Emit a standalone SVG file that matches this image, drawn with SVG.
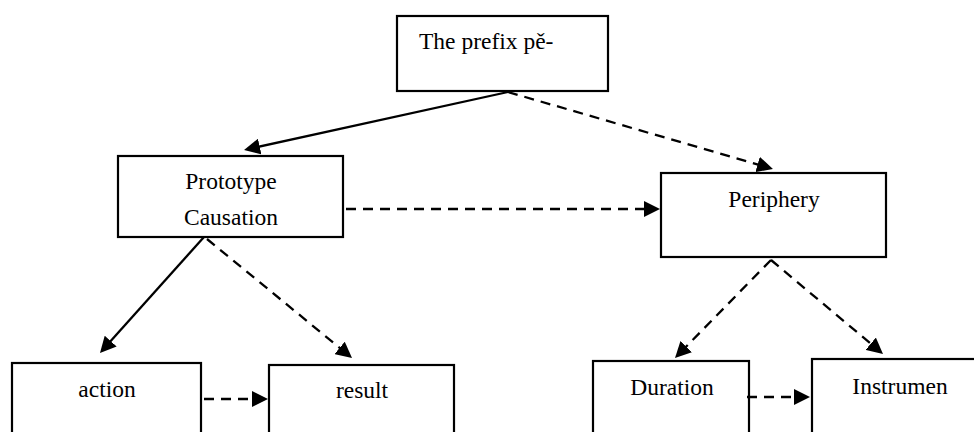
<svg xmlns="http://www.w3.org/2000/svg" width="974" height="432" viewBox="0 0 974 432">
  <style>
    .box { fill: #ffffff; stroke: #000000; stroke-width: 2.2; }
    .label { font-family: "Liberation Serif", "Times New Roman", "DejaVu Serif", serif; font-size: 23.5px; fill: #000000; }
    .mid { text-anchor: middle; }
    .solid { fill: none; stroke: #000000; stroke-width: 2.3; marker-end: url(#arrow); }
    .dashed { fill: none; stroke: #000000; stroke-width: 2.3; stroke-dasharray: 10 7; marker-end: url(#arrow); }
  </style>
  <defs>
    <marker id="arrow" markerUnits="userSpaceOnUse" markerWidth="17" markerHeight="16" refX="10" refY="8" orient="auto">
      <path d="M0,0 L16,8 L0,16 Z" fill="#000000"/>
    </marker>
  </defs>
  <rect width="974" height="432" fill="#ffffff"/>

  <g id="prefix">
    <rect class="box" x="397" y="16" width="211" height="75"/>
    <text class="label" x="419" y="49">The prefix pě-</text>
  </g>

  <g id="prototype">
    <rect class="box" x="118" y="156" width="225" height="81"/>
    <text class="label mid" x="231" y="189">Prototype</text>
    <text class="label mid" x="231" y="225">Causation</text>
  </g>

  <g id="periphery">
    <rect class="box" x="661" y="173" width="225" height="84"/>
    <text class="label mid" x="774" y="207">Periphery</text>
  </g>

  <g id="action">
    <rect class="box" x="12" y="363" width="189" height="80"/>
    <text class="label mid" x="107" y="397">action</text>
  </g>

  <g id="result">
    <rect class="box" x="269" y="365" width="185" height="80"/>
    <text class="label mid" x="362" y="398">result</text>
  </g>

  <g id="duration">
    <rect class="box" x="593" y="361" width="156" height="80"/>
    <text class="label mid" x="672" y="395">Duration</text>
  </g>

  <g id="instrument">
    <rect class="box" x="812" y="359" width="180" height="85"/>
    <text class="label mid" x="900" y="394">Instrumen</text>
  </g>

  <!-- end points sit 6px short of each arrow tip; the marker carries the rest -->
  <g id="connectors">
    <line class="solid" x1="508" y1="92" x2="249.9" y2="148.7"/>
    <line class="dashed" x1="508" y1="92" x2="767.2" y2="167.3"/>
    <line class="dashed" x1="346" y1="209" x2="654" y2="209"/>
    <line class="solid" x1="204" y1="237" x2="104" y2="348.5"/>
    <line class="dashed" x1="207" y1="239" x2="347.4" y2="354.2"/>
    <line class="dashed" x1="771" y1="260" x2="679.2" y2="353.7"/>
    <line class="dashed" x1="771" y1="260" x2="878.4" y2="350.1"/>
    <line class="dashed" x1="204" y1="399" x2="262" y2="399"/>
    <line class="dashed" x1="747" y1="397" x2="804" y2="397"/>
  </g>
</svg>
